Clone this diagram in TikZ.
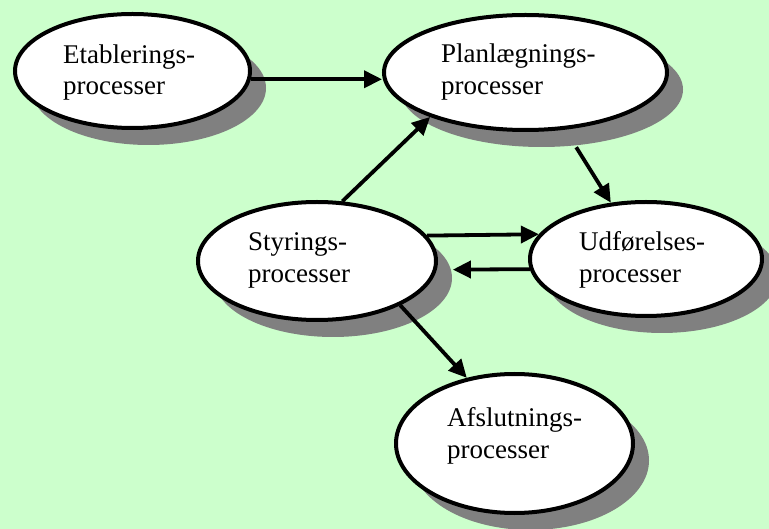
\documentclass[tikz,border=0pt]{standalone}
\usepackage{fontspec}
\setmainfont{Liberation Serif}
\usetikzlibrary{shapes.geometric,shadows,arrows.meta}
\definecolor{bggreen}{HTML}{CCFFCC}
\definecolor{shadowgray}{HTML}{808080}
\begin{document}
\begin{tikzpicture}[x=1pt,y=-1pt,
  proc/.style={ellipse, draw=black, line width=4pt, fill=white, inner sep=0pt,
    drop shadow={shadow xshift=16pt, shadow yshift=-17pt, fill=shadowgray, opacity=1}},
  lbl/.style={anchor=base west, align=left, inner sep=0pt,
    font=\fontsize{27}{31.5}\selectfont},
  flow/.style={line width=3.8pt, -{Triangle[length=18pt,width=17pt]}}]
% page background
\fill[bggreen] (0,0) rectangle (769,529);
\useasboundingbox (0,0) rectangle (769,529);

% process ellipses
\node[proc, minimum width=235pt, minimum height=114pt] (etab) at (132.5,71) {};
\node[proc, minimum width=283pt, minimum height=115pt] (plan) at (525.5,72.5) {};
\node[proc, minimum width=238pt, minimum height=118pt] (styr) at (317,261) {};
\node[proc, minimum width=232pt, minimum height=114pt] (udf) at (646,259) {};
\node[proc, minimum width=237pt, minimum height=139pt] (afsl) at (514.5,443.5) {};

% labels (anchored at the baseline of the second line)
\node[lbl] (etabtxt) at (63,95) {Etablerings-\\processer};
\node[lbl] (plantxt) at (441,94.5) {Planlægnings-\\processer};
\node[lbl] (styrtxt) at (248,282.5) {Styrings-\\processer};
\node[lbl] (udftxt) at (579,282.5) {Udførelses-\\processer};
\node[lbl] (afsltxt) at (447,458) {Afslutnings-\\processer};

% flows between the processes
\draw[flow] (etab.-4) -- (etab.-4 -| plan.west);
\draw[flow] (styr.67) -- (plan.205);
\draw[flow] ([shift={(16,17)}]plan.-59) -- (udf.122);
\draw[flow] (styr.13) -- (udf.167.5);
\draw[flow] (udf.185) -- ([shift={(16,17)}]styr.4);
\draw[flow] (styr.-28.5) -- (afsl.126.3);
\end{tikzpicture}
\end{document}
